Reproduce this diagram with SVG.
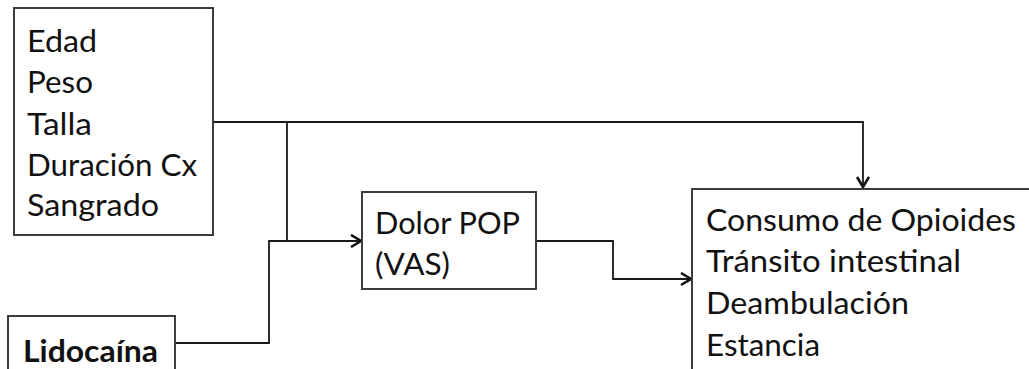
<svg xmlns="http://www.w3.org/2000/svg" width="1029" height="369" viewBox="0 0 1029 369">
<style>
.box{fill:#fff;stroke:#3c3c3c;stroke-width:2}
.conn{fill:none;stroke:#1a1a1a;stroke-width:1.8}
.t{font-family:Lato,"Open Sans","Liberation Sans",sans-serif;font-size:31px;fill:#111}
.b{font-weight:bold}
</style>
<defs>
<marker id="arr" markerUnits="userSpaceOnUse" markerWidth="14" markerHeight="16" refX="11" refY="7" orient="auto">
<path d="M1,1 L11,7 L1,13" fill="none" stroke="#111" stroke-width="2.6"/>
</marker>
</defs>
<rect width="1029" height="369" fill="#fff"/>
<g id="conns">
<path class="conn" d="M213,122 H863 V187" marker-end="url(#arr)"/>
<path class="conn" d="M287,122 V241 H361" marker-end="url(#arr)"/>
<path class="conn" d="M175,343 H269 V241 H287"/>
<path class="conn" d="M536,241 H613 V279 H691" marker-end="url(#arr)"/>
</g>
<g id="covariables">
<rect class="box" x="14" y="8" width="199" height="227"/>
<text class="t" x="27" y="52" textLength="70" lengthAdjust="spacingAndGlyphs">Edad</text>
<text class="t" x="27" y="93" textLength="66" lengthAdjust="spacingAndGlyphs">Peso</text>
<text class="t" x="27" y="135" textLength="65" lengthAdjust="spacingAndGlyphs">Talla</text>
<text class="t" x="27" y="176" textLength="170" lengthAdjust="spacingAndGlyphs">Duración Cx</text>
<text class="t" x="27" y="216" textLength="132" lengthAdjust="spacingAndGlyphs">Sangrado</text>
</g>
<g id="lidocaina">
<rect class="box" x="8" y="316" width="167" height="70"/>
<text class="t b" x="23" y="362" font-size="33" textLength="135" lengthAdjust="spacingAndGlyphs">Lidocaína</text>
</g>
<g id="dolor">
<rect class="box" x="362" y="192" width="174" height="97"/>
<text class="t" x="375" y="234" textLength="145" lengthAdjust="spacingAndGlyphs">Dolor POP</text>
<text class="t" x="375" y="275" textLength="75" lengthAdjust="spacingAndGlyphs">(VAS)</text>
</g>
<g id="resultados">
<rect class="box" x="692" y="189" width="360" height="200"/>
<text class="t" x="706" y="231" textLength="310" lengthAdjust="spacingAndGlyphs">Consumo de Opioides</text>
<text class="t" x="706" y="272" textLength="255" lengthAdjust="spacingAndGlyphs">Tránsito intestinal</text>
<text class="t" x="706" y="314" textLength="203" lengthAdjust="spacingAndGlyphs">Deambulación</text>
<text class="t" x="706" y="356" textLength="114" lengthAdjust="spacingAndGlyphs">Estancia</text>
</g>
</svg>
